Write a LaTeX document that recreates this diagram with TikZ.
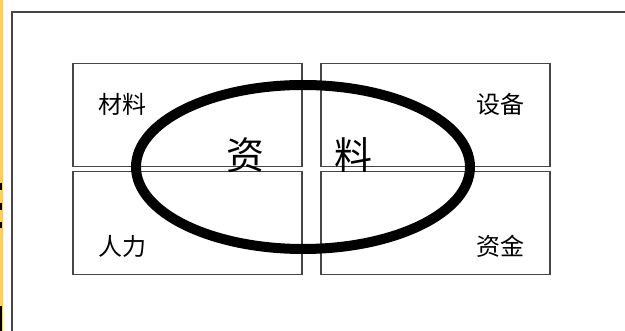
\documentclass[tikz,border=0pt]{standalone}
\usepackage{fontspec}
\usepackage{tikz}
\usetikzlibrary{shapes.geometric}
\newfontfamily\cjk{Noto Sans CJK SC}
\definecolor{cFrame}{RGB}{70,70,70}
\definecolor{cStrip}{RGB}{255,204,102}
\tikzset{
  cell/.style={draw=cFrame, line width=1.6pt, minimum width=229pt, minimum height=103pt,
               inner sep=0pt},
  lbl/.style={font=\cjk\fontsize{24}{24}\selectfont, inner sep=0pt},
  big/.style={font=\cjk\fontsize{38}{38}\selectfont, inner sep=0pt},
  ring/.style={draw=black, line width=10pt, ellipse, inner sep=0pt,
               minimum width=334pt, minimum height=164pt},
}
\begin{document}
\begin{tikzpicture}[x=1pt, y=-1pt]
\useasboundingbox (0,0) rectangle (625,331);
% slide border
\fill[cStrip] (0,0) rectangle (2.5,331);
\fill[black] (0,183) rectangle (2,190);
\fill[black] (0,203) rectangle (2,210);
\fill[black] (0,222) rectangle (2,228);
\fill[black] (0,306) rectangle (2,331);
\coordinate (fa) at (12,331);
\coordinate (fb) at (12,12);
\coordinate (fc) at (625,12);
\draw[cFrame, line width=2pt] (fa) -- (fb) -- (fc);

% four boxes
\node[cell] (tl) at (187.5,115) {};
\node[cell] (tr) at (435.5,115) {};
\node[cell] (bl) at (187.5,223) {};
\node[cell] (br) at (435.5,223) {};

\node[lbl] (cl) at (122,104) {材料};
\node[lbl] (sb) at (500,104) {设备};
\node[lbl] (rl) at (122,246) {人力};
\node[lbl] (zj) at (500,246) {资金};

% ring
\node[ring] (r) at (303,167) {};
\node[big] (zi) at (245,155) {资};
\node[big] (li) at (353,155) {料};
\end{tikzpicture}
\end{document}
